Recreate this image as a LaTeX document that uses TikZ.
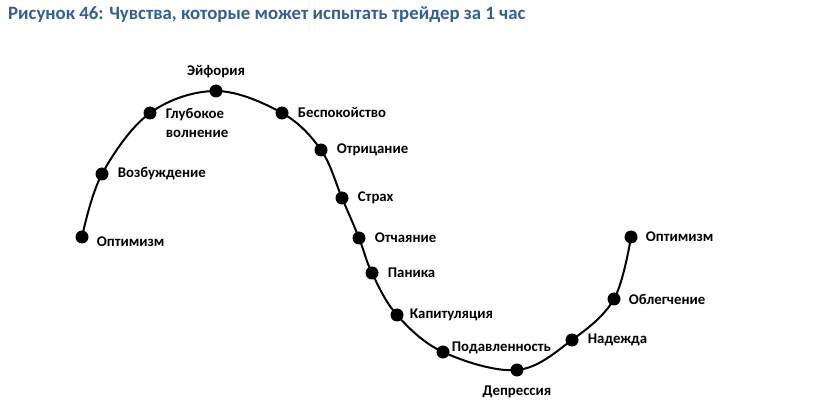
\documentclass[tikz,border=0pt]{standalone}
\usepackage{fontspec}
\setmainfont{Carlito}
\usepackage{xcolor}
\usepackage{tikz}
\usetikzlibrary{positioning}

\definecolor{titleblue}{HTML}{365F91}

\begin{document}
\begin{tikzpicture}[x=1pt,y=-1pt,
  dot/.style={circle,fill=black,inner sep=0pt,minimum size=13pt},
  lbl/.style={font=\bfseries\fontsize{14.8}{19}\selectfont,inner sep=1pt},
  curve/.style={line width=2pt}]
  \useasboundingbox (0,0) rectangle (820,406);
  \node[anchor=west,inner sep=0pt,text=titleblue,font=\bfseries\fontsize{18.8}{21}\selectfont] (title) at (8,15) {Рисунок 46: Чувства, которые может испытать трейдер за 1 час};
  % points on the curve
  \node[dot] (opt1) at (82,237) {};
  \node[dot] (vozb) at (102,174) {};
  \node[dot] (glub) at (150,113) {};
  \node[dot] (eyf) at (216,91) {};
  \node[dot] (besp) at (282,113) {};
  \node[dot] (otr) at (321,150) {};
  \node[dot] (strah) at (342,198) {};
  \node[dot] (otch) at (359,238) {};
  \node[dot] (pan) at (372,273) {};
  \node[dot] (kap) at (397,315) {};
  \node[dot] (podav) at (443,352) {};
  \node[dot] (depr) at (517,370) {};
  \node[dot] (nad) at (572,340) {};
  \node[dot] (obl) at (614,299) {};
  \node[dot] (opt2) at (631,237) {};
  \draw[curve] plot[smooth,tension=0.6] coordinates {(opt1.center) (vozb.center) (glub.center) (eyf.center) (besp.center) (otr.center) (strah.center) (otch.center) (pan.center) (kap.center) (podav.center) (depr.center) (nad.center) (obl.center) (opt2.center)};
  % labels
  \node[lbl,right=7pt of opt1,yshift=-5pt] (topt1) {Оптимизм};
  \node[lbl,right=8pt of vozb] (tvozb) {Возбуждение};
  \node[lbl,right=8pt of glub,yshift=-10pt,align=left] (tglub) {Глубокое\\волнение};
  \node[lbl,above=5pt of eyf] (teyf) {Эйфория};
  \node[lbl,right=8pt of besp] (tbesp) {Беспокойство};
  \node[lbl,right=8pt of otr] (totr) {Отрицание};
  \node[lbl,right=8pt of strah] (tstrah) {Страх};
  \node[lbl,right=8pt of otch] (totch) {Отчаяние};
  \node[lbl,right=8pt of pan] (tpan) {Паника};
  \node[lbl,right=5pt of kap] (tkap) {Капитуляция};
  \node[lbl,right=1pt of podav,yshift=4pt] (tpodav) {Подавленность};
  \node[lbl,below=8pt of depr] (tdepr) {Депрессия};
  \node[lbl,right=8pt of nad] (tnad) {Надежда};
  \node[lbl,right=7pt of obl] (tobl) {Облегчение};
  \node[lbl,right=7pt of opt2] (topt2) {Оптимизм};
\end{tikzpicture}
\end{document}
